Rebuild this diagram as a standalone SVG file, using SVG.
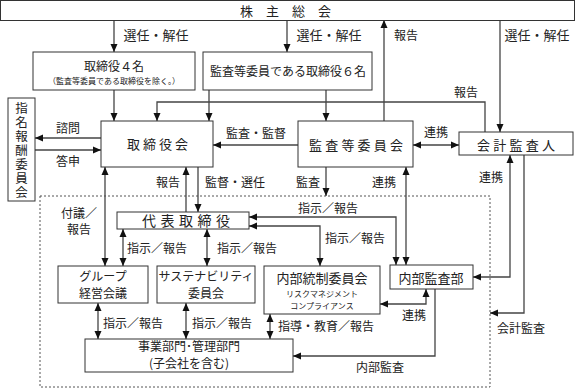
<svg xmlns="http://www.w3.org/2000/svg" width="575" height="389" viewBox="0 0 575 389">
<style>
.box{fill:#fff;stroke:#333;stroke-width:1}
.ln{fill:none;stroke:#444;stroke-width:1.3}
.a{marker-end:url(#ah)}
.d{marker-start:url(#ah);marker-end:url(#ah)}
.dot{fill:none;stroke:#555;stroke-width:1;stroke-dasharray:2,2}
text{font-family:"Noto Sans CJK JP","Noto Sans CJK SC",sans-serif;fill:#222;text-anchor:middle}
.lb{font-size:12px}
.nd{font-size:13px}
.n2{font-size:12px}
.sm{font-size:8px}
.st{text-anchor:start}
</style>
<defs>
<marker id="ah" viewBox="0 0 8 8" refX="8" refY="4" markerWidth="8" markerHeight="8" markerUnits="userSpaceOnUse" orient="auto-start-reverse">
<path d="M0,0.5 L8,4 L0,7.5 Z" fill="#111"/>
</marker>
</defs>
<rect width="575" height="389" fill="#fff"/>

<rect class="dot" x="40" y="196" width="450" height="191"/>

<g id="connectors">
<path class="ln a" d="M114,20 V52"/>
<path class="ln a" d="M287,20 V52"/>
<path class="ln a" d="M384,121 V20"/>
<path class="ln a" d="M500,20 V132"/>
<path class="ln a" d="M114,90 V121"/>
<path class="ln a" d="M209,90 V121"/>
<path class="ln a" d="M326,90 V121"/>
<path class="ln a" d="M485,132 V102 H157 V121"/>
<path class="ln a" d="M101,138 H35"/>
<path class="ln a" d="M35,150 H101"/>
<path class="ln a" d="M298,145 H213"/>
<path class="ln d" d="M413,145 H459"/>
<path class="ln a" d="M186,212 V167"/>
<path class="ln a" d="M198,167 V212"/>
<path class="ln a" d="M326,167 V196"/>
<path class="ln d" d="M406,167 V265"/>
<path class="ln d" d="M105,167 V266"/>
<path class="ln d" d="M249,217 H396 V265"/>
<path class="ln d" d="M249,226 H320 V266"/>
<path class="ln d" d="M123,229 V266"/>
<path class="ln d" d="M207,229 V266"/>
<path class="ln d" d="M473,277 H510 V155"/>
<path class="ln a" d="M524,155 V313 H490"/>
<path class="ln d" d="M380,304 H426 V289"/>
<path class="ln a" d="M435,289 V356 H293"/>
<path class="ln d" d="M98,303 V339"/>
<path class="ln d" d="M186,303 V339"/>
<path class="ln d" d="M270,314 V339"/>
</g>

<g id="labels">
<text class="lb" x="156" y="40" style="font-size:13px">選任・解任</text>
<text class="lb" x="329" y="40" style="font-size:13px">選任・解任</text>
<text class="lb" x="406" y="40">報告</text>
<text class="lb" x="537" y="40" style="font-size:13px">選任・解任</text>
<text class="lb" x="466" y="97">報告</text>
<text class="lb" x="68" y="133">諮問</text>
<text class="lb" x="68" y="166">答申</text>
<text class="lb" x="256" y="138">監査・監督</text>
<text class="lb" x="436" y="137">連携</text>
<text class="lb" x="168" y="187">報告</text>
<text class="lb" x="235" y="187">監督・選任</text>
<text class="lb" x="308" y="187">監査</text>
<text class="lb" x="384" y="187">連携</text>
<text class="lb" x="491" y="182">連携</text>
<text class="lb" x="79" y="218">付議／</text>
<text class="lb" x="79" y="234">報告</text>
<text class="lb" x="328" y="213">指示／報告</text>
<text class="lb" x="355" y="243">指示／報告</text>
<text class="lb" x="157" y="253">指示／報告</text>
<text class="lb" x="247" y="253">指示／報告</text>
<text class="lb" x="133" y="328">指示／報告</text>
<text class="lb" x="222" y="328">指示／報告</text>
<text class="lb" x="326" y="331">指導・教育／報告</text>
<text class="lb" x="414" y="320">連携</text>
<text class="lb" x="380" y="372">内部監査</text>
<text class="lb" x="521" y="333">会計監査</text>
</g>

<g id="shareholders">
<rect class="box" x="0.5" y="0.5" width="574" height="20"/>
<text class="nd st" x="240" y="16" style="letter-spacing:13px">株主総会</text>
</g>
<g id="directors4">
<rect class="box" x="33" y="52" width="162" height="38"/>
<text style="font-size:12px" x="114" y="71">取締役４名</text>
<text class="sm" x="114" y="84">（監査等委員である取締役を除く。）</text>
</g>
<g id="directors6">
<rect class="box" x="203" y="52" width="169" height="38"/>
<text style="font-size:12px" x="288" y="76">監査等委員である取締役６名</text>
</g>
<g id="nomination">
<rect class="box" x="8" y="98" width="27" height="103"/>
<text x="21.5" y="151" style="writing-mode:vertical-rl;font-size:12.5px;letter-spacing:1.5px">指名報酬委員会</text>
</g>
<g id="board">
<rect class="box" x="101" y="121" width="112" height="46"/>
<text class="nd st" x="127" y="149" style="letter-spacing:3px">取締役会</text>
</g>
<g id="auditcommittee">
<rect class="box" x="298" y="121" width="115" height="46"/>
<text class="nd st" x="309" y="150" style="letter-spacing:3.2px">監査等委員会</text>
</g>
<g id="accountingauditor">
<rect class="box" x="459" y="132" width="114" height="23"/>
<text class="nd st" x="477" y="150" style="letter-spacing:3.25px">会計監査人</text>
</g>
<g id="representative">
<rect class="box" x="117" y="212" width="132" height="17"/>
<text class="st" x="142" y="226" style="font-size:14px;letter-spacing:4.5px">代表取締役</text>
</g>
<g id="group">
<rect class="box" x="58" y="266" width="90" height="37"/>
<text class="n2" x="103" y="281">グループ</text>
<text class="n2" x="103" y="298">経営会議</text>
</g>
<g id="sustainability">
<rect class="box" x="157" y="266" width="98" height="37"/>
<text class="n2" x="206" y="281">サステナビリティ</text>
<text class="n2" x="206" y="298">委員会</text>
</g>
<g id="internalcontrol">
<rect class="box" x="264" y="266" width="116" height="48"/>
<text class="nd" x="322" y="283">内部統制委員会</text>
<text class="sm" x="322" y="297">リスクマネジメント</text>
<text class="sm" x="322" y="309">コンプライアンス</text>
</g>
<g id="internalaudit">
<rect class="box" x="390" y="265" width="83" height="24"/>
<text class="nd" x="431" y="283">内部監査部</text>
</g>
<g id="business">
<rect class="box" x="85" y="339" width="208" height="33"/>
<text class="n2" x="189" y="351">事業部門･管理部門</text>
<text class="n2" x="189" y="368">(子会社を含む)</text>
</g>
</svg>
